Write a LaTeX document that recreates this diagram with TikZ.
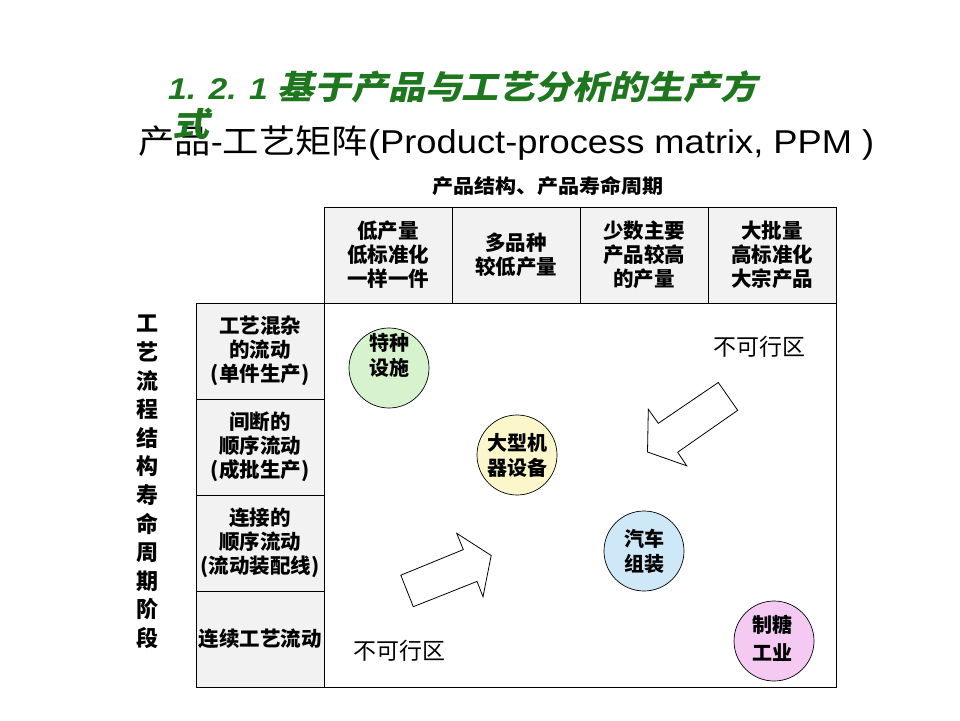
\documentclass[tikz,border=0pt]{standalone}
\usepackage{fontspec}
\setmainfont{Noto Sans CJK SC}
\newfontfamily\cjk{Noto Sans CJK SC}
\newfontfamily\arial{Liberation Sans}
\newfontfamily\cjkslant[FakeSlant=0.2]{Noto Sans CJK SC}
\definecolor{titlegreen}{RGB}{30,118,30}
\definecolor{cgreen}{RGB}{214,243,206}
\definecolor{cyellow}{RGB}{252,247,202}
\definecolor{cblue}{RGB}{206,232,248}
\definecolor{cpink}{RGB}{245,202,242}
\tikzset{
  cellbox/.style={draw=black, line width=0.9pt, fill=black!5, inner sep=0pt,
    minimum width=128pt, minimum height=96pt, align=center,
    font=\cjk\bfseries\fontsize{20.5}{24}\selectfont},
  areabox/.style={draw=black, line width=0.9pt, fill=white, inner sep=0pt,
    minimum width=512pt, minimum height=384pt},
  bubble/.style={circle, draw=black, line width=0.7pt, minimum size=80pt, inner sep=0pt,
    align=center, font=\cjk\bfseries\fontsize{20}{25}\selectfont},
  zone/.style={font=\cjk\fontsize{23}{26}\selectfont},
  bigarrow/.style={draw=black, line width=0.8pt, fill=white, line join=miter}
}
\begin{document}
\begin{tikzpicture}[x=1pt,y=-1pt]
\fill[white] (0,0) rectangle (960,720);
\useasboundingbox (0,0) rectangle (960,720);

% titles
\node[anchor=west, inner sep=0pt, text=titlegreen] (title) at (168,87)
  {\scalebox{1.12}[1]{{\fontsize{30}{36}\selectfont\arial\bfseries\itshape 1. 2. 1 }{\fontsize{33}{36}\selectfont\cjkslant\bfseries 基于产品与工艺分析的生产方}}};
\node[anchor=west, inner sep=0pt] (subtitle) at (138,143)
  {\scalebox{1.1}[1]{\fontsize{33}{36}\selectfont{\cjk 产品}{\arial -}{\cjk 工艺矩阵}{\arial (Product-process matrix, PPM )}}};
\node[inner sep=0pt, text=titlegreen] (titlewrap) at (191,124)
  {\scalebox{1.12}[1]{\fontsize{33}{36}\selectfont\cjkslant\bfseries 式}};

% axis labels
\node[inner sep=0pt, font=\cjk\bfseries\fontsize{19.5}{24}\selectfont] (toplabel) at (548,186)
  {\scalebox{1.08}[1]{产品结构、产品寿命周期}};
\node[inner sep=0pt, align=center, font=\cjk\bfseries\fontsize{22}{28.6}\selectfont] (sidelabel) at (147.5,482)
  {工\\艺\\流\\程\\结\\构\\寿\\命\\周\\期\\阶\\段};

% main area
\node[areabox] (area) at (580,495) {};

% header cells
\node[cellbox] (h1) at (388,255) {低产量\\低标准化\\一样一件};
\node[cellbox] (h2) at (516,255) {多品种\\较低产量};
\node[cellbox] (h3) at (644,255) {少数主要\\产品较高\\的产量};
\node[cellbox] (h4) at (772,255) {大批量\\高标准化\\大宗产品};

% side cells
\node[cellbox] (s1) at (260,351) {工艺混杂\\的流动\\(单件生产)};
\node[cellbox] (s2) at (260,447) {间断的\\顺序流动\\(成批生产)};
\node[cellbox] (s3) at (260,543) {连接的\\顺序流动\\(流动装配线)};
\node[cellbox] (s4) at (260,639) {连续工艺流动};

% bubbles
\node[bubble, fill=cgreen] (b1) at (389,368) {};
\node[inner sep=0pt, align=center, font=\cjk\bfseries\fontsize{20}{25}\selectfont] (b1t) at (389,355) {特种\\设施};
\node[bubble, fill=cyellow] (b2) at (517,455) {大型机\\器设备};
\node[bubble, fill=cblue] (b3) at (644,551) {汽车\\组装};
\node[bubble, fill=cpink] (b4) at (774,641) {};
\node[inner sep=0pt, align=center, font=\cjk\bfseries\fontsize{20}{28}\selectfont] (b4t) at (772,638) {制糖\\工业};

% infeasible zones
\node[zone] (z1) at (759,347) {不可行区};
\node[zone] (z2) at (399,651) {不可行区};

% arrows
\draw[bigarrow] (718.3,382.5) -- (737.7,410.3) -- (677.7,452.2) -- (686.7,465.8)
  -- (647.5,452) -- (648.3,409.3) -- (658.3,423.3) -- cycle;
\draw[bigarrow] (400.8,575.2) -- (463.3,549.6) -- (456.7,533.3) -- (491.2,555.5)
  -- (483,596.7) -- (477,581.4) -- (413.3,606.7) -- cycle;
\end{tikzpicture}
\end{document}
